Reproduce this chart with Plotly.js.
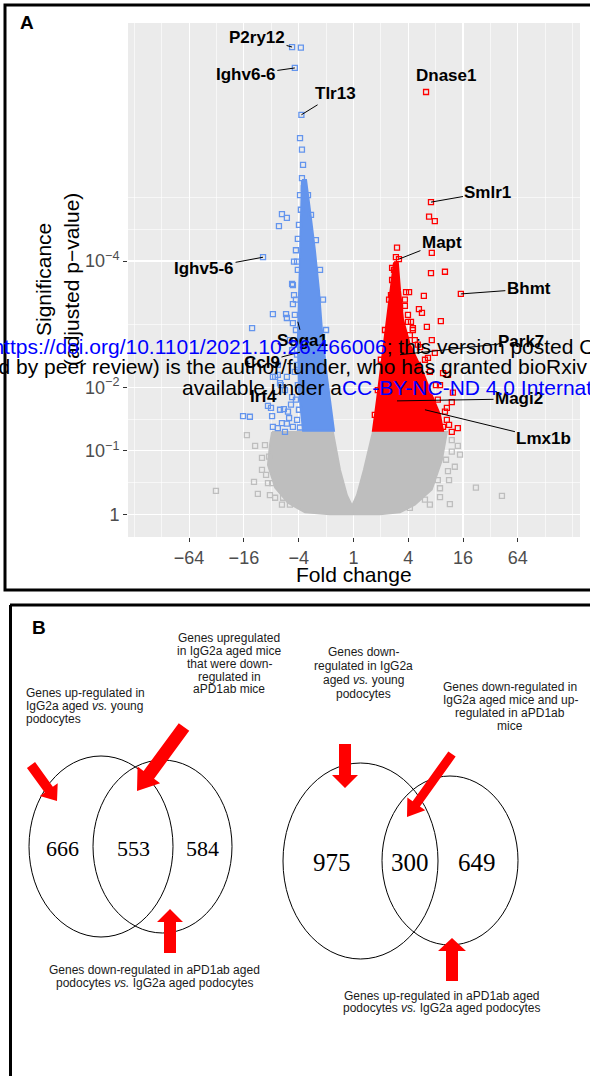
<!DOCTYPE html>
<html>
<head>
<meta charset="utf-8">
<script src="https://cdn.plot.ly/plotly-3.0.1.min.js"></script>
<style>html,body{margin:0;padding:0;background:#fff;}#chart{width:590px;height:1076px;}</style>
</head>
<body>
<div id="chart"></div>
<script>
// ---------------- DATA (log2 fold change, -log10 adjusted p-value) ----------------
// scattered (individually visible) genes
const blueFC  = [-2.24,-1.92,-2.14,-1.90,-1.95,-1.88,-1.84,-1.88,-1.81,-2.61,-2.43,-2.72,-2.03,-2.17,-2.06,-2.24,-2.17,-2.21,-2.94,-2.46,-2.43,-2.21,-3.70,-3.30,-2.76,-2.43,-2.86,-3.12,-4.03,-3.78,-2.97,-2.94,-2.61,-2.43,-2.21,-2.39,-2.24,-2.50,-2.06,-2.68,-2.94,-2.76,-2.65,-3.01,-2.68,-2.54,-2.50,-2.76,-2.21,-2.10,-2.32,-2.24,
                 -2.10,-2.17,-2.06,-2.14,-2.03,-2.10,-1.99,-2.06,-1.95,-2.28,-2.35,-2.14,-2.03,-2.10,-1.99,-1.92,-1.95,-1.66,-1.55,-1.37,-1.22,-1.11,-1.00];
const blueSig = [7.38,7.37,7.05,6.31,5.94,5.76,5.52,5.31,5.15,4.74,4.68,4.55,4.35,3.99,3.99,3.64,3.46,3.32,3.16,3.16,3.10,3.02,2.94,4.06,2.36,2.17,2.17,1.71,1.55,1.54,1.55,1.38,1.44,1.43,1.38,1.62,1.85,1.96,2.36,2.07,2.17,2.20,2.04,1.68,1.65,1.66,1.30,1.36,3.62,3.39,2.75,2.59,
                 2.91,2.68,2.52,2.25,2.04,1.81,1.65,1.49,1.37,1.73,1.52,3.15,3.86,4.17,4.57,4.81,5.04,5.04,4.73,4.33,3.86,3.39,2.91];
const redFC   = [2.65,2.83,2.76,2.97,1.59,1.55,1.66,2.86,2.83,3.34,3.92,1.92,2.03,2.57,1.70,1.88,2.39,2.50,3.19,2.10,2.17,1.99,2.68,2.86,2.97,3.27,3.45,3.63,3.59,3.81,3.41,3.16,2.43,2.72,2.35,3.41,3.27,1.48,1.41,1.51,1.37,1.48,2.06,2.24,
                 1.88,1.99,2.17,2.35,2.61,2.79,3.01,3.08,3.34,3.49,3.59,1.41,1.30,1.15,1.00,0.89,0.78];
const redSig  = [6.67,4.93,4.70,4.63,4.21,4.06,4.03,4.13,3.81,3.83,3.48,3.51,3.51,3.45,3.26,3.29,3.24,3.18,3.05,3.04,2.94,3.04,2.96,2.75,2.55,2.23,2.20,1.92,1.77,1.36,1.68,2.04,2.64,2.47,2.36,1.49,1.38,3.86,3.70,3.62,3.46,3.39,2.83,2.75,
                 3.39,3.15,2.91,2.68,2.44,2.25,2.04,1.81,1.62,1.41,1.30,3.89,3.39,2.91,2.44,1.96,1.57];
const greyFC  = [-3.89,-3.59,-5.02,-3.63,-3.49,-3.12,-2.97,-3.05,-2.83,-3.08,3.81,4.47,5.42,3.52,3.70,3.89,3.49,3.16,3.59,3.38,-3.34,-2.57,-2.32,2.79,3.08,
                 -3.23,-3.34,-3.19,-2.86,-2.61,3.59,3.45,3.16,2.61,2.06];
const greySig = [1.25,1.08,0.37,0.51,0.32,0.49,0.49,0.30,0.64,0.91,1.08,0.42,0.29,0.16,0.75,0.94,0.54,0.27,1.17,0.86,0.70,0.26,0.15,0.15,0.54,
                 1.09,0.89,0.62,0.26,0.15,0.99,0.68,0.41,0.23,0.10];
// outlines of the densely packed (solid-looking) clouds
const blueCoreFC  = [-1.88,-1.73,-1.59,-1.41,-1.26,-1.15,-1.00,-0.85,-0.71,-1.84,-1.99,-2.03,-1.99,-1.95,-1.92];
const blueCoreSig = [5.28,5.28,4.81,4.18,3.54,2.91,2.28,1.81,1.32,1.32,1.96,2.75,3.54,4.33,4.96];
const redCoreFC   = [1.48,1.62,1.70,1.81,2.06,2.50,2.86,3.16,3.27,0.71,0.86,1.04,1.22,1.33];
const redCoreSig  = [3.98,3.98,3.54,3.07,2.68,2.28,1.88,1.57,1.32,1.32,1.81,2.44,3.07,3.54];
const greyCoreFC  = [-2.97,-0.75,-0.49,-0.24,-0.05,0.13,0.38,0.71,3.41,3.23,2.86,2.24,1.70,0.97,0.05,-0.86,-1.77,-2.39,-2.86,-3.12,-3.05];
const greyCoreSig = [1.30,1.30,0.70,0.30,0.13,0.30,0.70,1.30,1.30,0.86,0.39,0.15,0.03,0.0,0.0,0.0,0.03,0.18,0.42,0.78,1.09];
// labelled genes
const labelGenes = ['P2ry12','Ighv6-6','Tlr13','Dnase1','Smlr1','Mapt','Bhmt','Ighv5-6','Park7','Magi2','Lmx1b','Soga1','Ccl9','Irf4'];
const labelFC    = [-2.24,-2.14,-1.90,2.65,2.83,1.66,3.92,-3.30,1.70,1.59,2.61,-2.03,-1.95,-3.12];
const labelSig   = [7.38,7.05,6.31,6.67,4.93,4.03,3.48,4.06,2.52,1.79,1.65,3.04,2.56,1.71];
// axes
const xTickVals = [-6,-4,-2,0,2,4,6];
const xTickText = ['\u221264','\u221216','\u22124','1','4','16','64'];
const yTickVals = [0,1,2,4];
const yTickText = ['1','10<sup>\u22121</sup>','10<sup>\u22122</sup>','10<sup>\u22124</sup>'];
// Venn counts
const venn1Counts = [666,553,584];
const venn2Counts = [975,300,649];

// ---------------- LAYOUT HELPERS ----------------
const W = 590, H = 1076;
const px = x => x / W;
const py = y => 1 - y / H;
const FONT = 'Liberation Sans, Arial, sans-serif';
const SERIF = 'Liberation Serif, Times New Roman, serif';
const BLUE = '#6495ED', RED = '#FF0000', GREY = '#BEBEBE';

function core(xs, ys, c){
  return {x: xs.concat([xs[0]]), y: ys.concat([ys[0]]), type:'scatter', mode:'lines', fill:'toself',
          fillcolor:c, line:{color:c, width:2}, hoverinfo:'skip', showlegend:false};
}
function pts(xs, ys, c){
  return {x: xs, y: ys, type:'scatter', mode:'markers', hoverinfo:'skip', showlegend:false,
          marker:{symbol:'square-open', size:5, color:c, line:{width:1.3, color:c}}};
}
const traces = [
  core(greyCoreFC, greyCoreSig, GREY), pts(greyFC, greySig, GREY),
  core(blueCoreFC, blueCoreSig, BLUE), pts(blueFC, blueSig, BLUE),
  core(redCoreFC, redCoreSig, RED), pts(redFC, redSig, RED)
];

const annotations = [];
const shapes = [];
function txt(t, x, y, size, opts){
  annotations.push(Object.assign({text:t, xref:'paper', yref:'paper', x:px(x), y:py(y), showarrow:false,
    xanchor:'center', yanchor:'middle', font:{family:FONT, size:size, color:'#000'}}, opts||{}));
}

// gene labels: text offset (pixels) from the labelled point, arrow drawn if segment shown
const labelOffsets = [[-35,-10,1],[-49,7,1],[34,-21,1],[20,-16,0],[57,-10,1],[43,-17,1],[68,-5,1],[-59,11,1],[121,-13,1],[122,-2,1],[119,29,1],[5,19,1],[-38,10,1],[-4,-9,0]];
labelGenes.forEach((g,i)=>{
  const o = labelOffsets[i];
  const a = {text:'<b>'+g+'</b>', xref:'x', yref:'y', x:labelFC[i], y:labelSig[i],
    font:{family:FONT, size:17, color:'#000'}, xanchor:'center', yanchor:'middle'};
  if (o[2]) { Object.assign(a, {showarrow:true, arrowhead:0, arrowwidth:1, arrowcolor:'#000', ax:o[0], ay:o[1], standoff:0}); }
  else { Object.assign(a, {showarrow:false, xshift:o[0], yshift:-o[1]}); }
  annotations.push(a);
});

// axis titles & panel letters
txt('Fold change', 354, 574, 21);
txt('Significance', 44, 280, 21, {textangle:-90});
txt('(adjusted p\u2212value)', 72, 280, 21, {textangle:-90});
txt('<b>A</b>', 27, 23, 19);
txt('<b>B</b>', 39, 627, 19);

// bioRxiv watermark
const BL = s => '<span style="color:#0000ff">'+s+'</span>';
txt('bioRxiv preprint doi: '+BL('https://doi.org/10.1101/2021.10.26.466006')+'; this version posted October 28, 2021. The copyright holder for this preprint', -201, 346, 21, {xanchor:'left'});
txt('(which was not certified by peer review) is the author/funder, who has granted bioRxiv a license to display the preprint in perpetuity. It is made', -210, 366, 21, {xanchor:'left'});
txt('available under a'+BL('CC-BY-NC-ND 4.0 International license')+'.', 180, 388, 21, {xanchor:'left'});

// panel B texts
function block(lines, x, ys, anchor){
  lines.forEach((l,i)=> txt(l, x, ys[i], 12, {xanchor:anchor||'center', font:{family:FONT, size:12, color:'#1a1a1a'}}));
}
block(['Genes upregulated','in IgG2a aged mice','that were down-','regulated in','aPD1ab mice'], 229, [638,651,664,677,689]);
block(['Genes up-regulated in','IgG2a aged <i>vs.</i> young','podocytes'], 24, [693,706,719], 'left');
block(['Genes down-','regulated in IgG2a','aged <i>vs.</i> young','podocytes'], 363, [652,666,680,694]);
block(['Genes down-regulated in','IgG2a aged mice and up-','regulated in aPD1ab','mice'], 510, [687,700,713,726]);
block(['Genes down-regulated in aPD1ab aged','podocytes <i>vs.</i> IgG2a aged podocytes'], 154, [970,983]);
block(['Genes up-regulated in aPD1ab aged','podocytes <i>vs.</i> IgG2a aged podocytes'], 441, [996,1008]);

// Venn ellipses
function ell(cx, cy, rx, ry){
  shapes.push({type:'circle', xref:'paper', yref:'paper', x0:px(cx-rx), x1:px(cx+rx), y0:py(cy+ry), y1:py(cy-ry),
    line:{color:'#000', width:1}, fillcolor:'rgba(0,0,0,0)'});
}
ell(101, 846.5, 72, 90.5); ell(162.5, 846.5, 69.5, 86.5);
ell(360.5, 861, 77.5, 98); ell(450, 860.5, 68, 84.5);
[[62,848],[133,848],[202,848]].forEach((p,i)=> txt(String(venn1Counts[i]), p[0], p[1], 22, {font:{family:SERIF, size:22, color:'#000'}}));
[[332,862],[410,862],[477,862]].forEach((p,i)=> txt(String(venn2Counts[i]), p[0], p[1], 25, {font:{family:SERIF, size:25, color:'#000'}}));

// red arrows
function arrow(x1,y1,x2,y2,sw,hw,hl){
  const dx=x2-x1, dy=y2-y1, L=Math.hypot(dx,dy), ux=dx/L, uy=dy/L, nx=-uy, ny=ux;
  const bx=x2-ux*hl, by=y2-uy*hl;
  const p=[[x1+nx*sw/2,y1+ny*sw/2],[bx+nx*sw/2,by+ny*sw/2],[bx+nx*hw/2,by+ny*hw/2],[x2,y2],
           [bx-nx*hw/2,by-ny*hw/2],[bx-nx*sw/2,by-ny*sw/2],[x1-nx*sw/2,y1-ny*sw/2]];
  shapes.push({type:'path', xref:'paper', yref:'paper', path:'M'+p.map(q=>px(q[0])+','+py(q[1])).join(' L')+' Z',
    fillcolor:'#FF0000', line:{width:0}});
}
arrow(31,765,57,801,10,22,14);
arrow(184,727,137,791,13,28,20);
arrow(170,953,170,909,12,26,13);
arrow(345,744,345,788,12,26,13);
arrow(452,754,407,817,9,22,16);
arrow(452,981,452,938,12,28,13);

// panel borders
shapes.push({type:'rect', xref:'paper', yref:'paper', x0:px(5), x1:px(600), y0:py(590), y1:py(5), line:{color:'#000', width:3}, layer:'above'});
shapes.push({type:'line', xref:'paper', yref:'paper', x0:px(10), x1:px(600), y0:py(605), y1:py(605), line:{color:'#000', width:3}});
shapes.push({type:'line', xref:'paper', yref:'paper', x0:px(10.5), x1:px(10.5), y0:py(605), y1:py(1090), line:{color:'#000', width:3}});

const layout = {
  width: W, height: H, margin:{l:0,r:0,t:0,b:0}, paper_bgcolor:'#fff', plot_bgcolor:'#EBEBEB', showlegend:false,
  xaxis:{domain:[128/W, 580/W], range:[-8.23, 8.27], tickvals:xTickVals, ticktext:xTickText, ticks:'outside', ticklen:4,
    tickcolor:'#333', tickwidth:1, showgrid:true, gridcolor:'#fff', gridwidth:1.1, zeroline:false, showline:false,
    tickfont:{family:FONT, size:18, color:'#4D4D4D'}, fixedrange:true,
    minor:{tickvals:[-8,-7,-5,-3,-1,1,3,5,7,8], showgrid:true, gridcolor:'#fff', gridwidth:0.6, ticks:''}},
  yaxis:{domain:[1-537/H, 1-23/H], range:[-0.36, 7.76], tickvals:yTickVals, ticktext:yTickText, ticks:'outside', ticklen:4,
    tickcolor:'#333', tickwidth:1, showgrid:true, gridcolor:'#fff', gridwidth:1.1, zeroline:false, showline:false,
    tickfont:{family:FONT, size:18, color:'#4D4D4D'}, fixedrange:true,
    minor:{tickvals:[0.5,1.5,3,4.5,5], showgrid:true, gridcolor:'#fff', gridwidth:0.6, ticks:''}},
  annotations: annotations, shapes: shapes
};
Plotly.newPlot('chart', traces, layout, {displayModeBar:false, staticPlot:true});
</script>
</body>
</html>
